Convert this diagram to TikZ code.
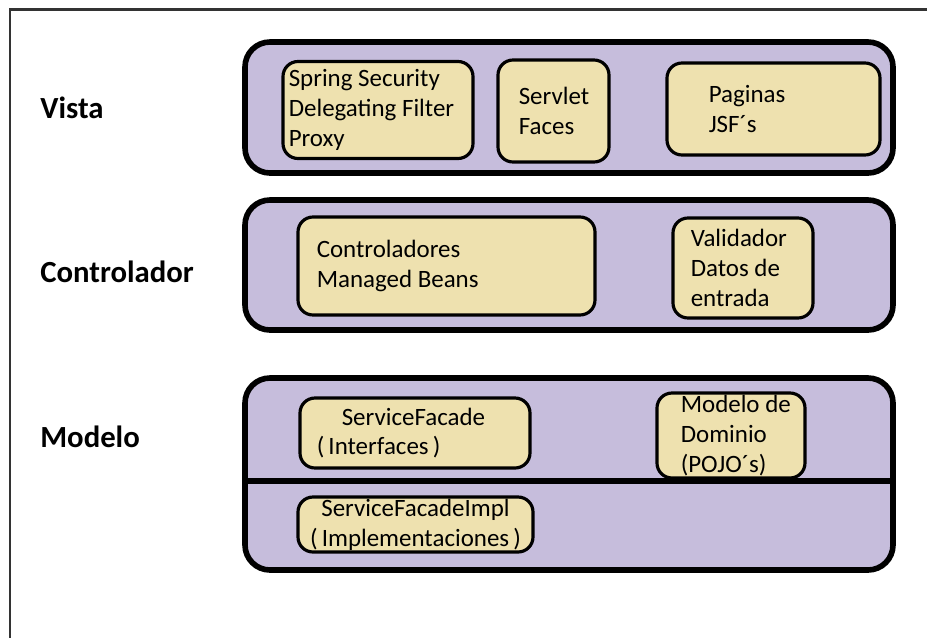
\documentclass[tikz,border=0pt]{standalone}
\usepackage{fontspec}
\setmainfont{Carlito}
\usepackage{tikz}
\usetikzlibrary{positioning}
\definecolor{LayerPurple}{RGB}{198, 189, 220}
\definecolor{BoxYellow}{RGB}{238, 225, 175}
\definecolor{FrameGray}{RGB}{51, 51, 51}

\tikzset{
  boxsize/.style 2 args={minimum width=#1*0.02cm, minimum height=#2*0.02cm},
  layer/.style={draw, line width=3.2pt, fill=LayerPurple, rounded corners=0.5cm, inner sep=0pt},
  inbox/.style={draw, line width=1.8pt, fill=BoxYellow, rounded corners=0.3cm, inner sep=0pt},
  txt/.style={align=left, inner sep=0pt, font=\fontsize{14.2}{17}\selectfont},
  layername/.style={anchor=west, inner sep=0pt, font=\fontsize{17.5}{20}\selectfont\bfseries}
}

\begin{document}
\begin{tikzpicture}[x=0.02cm, y=-0.02cm]
    \useasboundingbox (0,0) rectangle (927,637);

    % Outer frame
    \draw[FrameGray, line width=1.7pt] (10,645) -- (10,9) -- (935,9);

    % Layer names
    \node[layername] (vista) at (40,108) {Vista};
    \node[layername] (controlador) at (40,272) {Controlador};
    \node[layername] (modelo) at (40,437) {Modelo};

    % Layers
    \node[layer, boxsize={648}{131}] (vistabox) at (569,107.5) {};
    \node[layer, boxsize={648}{130}] (ctrlbox) at (569,265) {};
    \node[layer, boxsize={648}{192}] (modelobox) at (569,474) {};
    \draw[line width=3.2pt] (modelobox.west |- 0,481) -- (modelobox.east |- 0,481);

    % Vista
    \node[inbox, boxsize={190}{97}] (spring) at (378,110) {};
    \node[txt, right=7*0.02cm of spring.west] (springtxt) {Spring Security\\Delegating Filter\\Proxy};
    \node[inbox, boxsize={111}{102}] (servlet) at (553.5,111) {};
    \node[txt, right=22*0.02cm of servlet.west] (servlettxt) {Servlet\\Faces};
    \node[inbox, boxsize={213}{92}] (paginas) at (773.5,109) {};
    \node[txt, right=43*0.02cm of paginas.west] (paginastxt) {Paginas\\JSF´s};

    % Controlador
    \node[inbox, boxsize={297}{98}] (ctrls) at (446.5,266) {};
    \node[txt, right=20*0.02cm of ctrls.west] (ctrlstxt) {Controladores\\Managed Beans};
    \node[inbox, boxsize={140}{100}] (validador) at (743,268) {};
    \node[txt, right=19*0.02cm of validador.west] (validadortxt) {Validador\\Datos de\\entrada};

    % Modelo
    \node[inbox, boxsize={230}{70}] (facade) at (415,433) {};
    \node[txt, right=18*0.02cm of facade.west] (facadetxt) {\hspace*{0.5cm}ServiceFacade\\(\,Interfaces\,)};
    \node[inbox, boxsize={148}{85}] (dominio) at (731,435.5) {};
    \node[txt, right=25*0.02cm of dominio.west] (dominiotxt) {Modelo de\\Dominio\\(POJO´s)};
    \node[inbox, boxsize={235}{55}] (impl) at (415.5,524.5) {};
    \node[txt, align=center] (impltxt) at (impl.center) {ServiceFacadeImpl\\(\,Implementaciones\,)};
\end{tikzpicture}
\end{document}
